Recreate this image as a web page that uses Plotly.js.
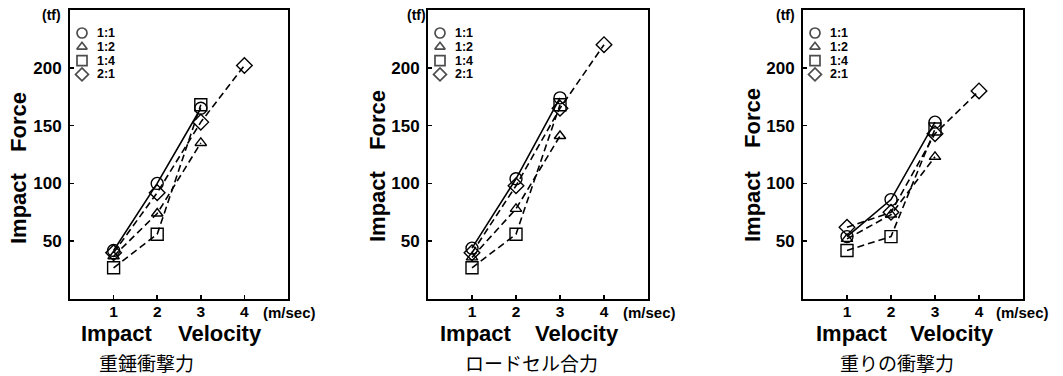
<!DOCTYPE html>
<html><head><meta charset="utf-8">
<script src="https://cdn.plot.ly/plotly-3.0.1.min.js"></script>
<style>html,body{margin:0;padding:0;background:#fff;}#chart{width:1063px;height:376px;}</style>
</head><body><div id="chart"></div>
<script>
// ---- data ----
const velocities = [1, 2, 3, 4];
const ratios = ['1:1', '1:2', '1:4', '2:1'];
const captions = ['重錘衝撃力', 'ロードセル合力', '重りの衝撃力'];
const xTickVals = [1, 2, 3, 4];
const yTickVals = [50, 100, 150, 200];
// panel 1: 重錘衝撃力
const hammer_11 = [42, 100, 165];
const hammer_12 = [37, 74, 135];
const hammer_14 = [27, 56, 168];
const hammer_21 = [40, 92, 153, 202];
// panel 2: ロードセル合力
const loadcell_11 = [44, 104, 174];
const loadcell_12 = [36, 78, 141];
const loadcell_14 = [27, 56, 168];
const loadcell_21 = [40, 98, 165, 220];
// panel 3: 重りの衝撃力
const weight_11 = [54, 86, 153];
const weight_12 = [52, 73, 123];
const weight_14 = [42, 54, 147];
const weight_21 = [62, 75, 143, 180];

const panelsData = [
  [hammer_11, hammer_12, hammer_14, hammer_21],
  [loadcell_11, loadcell_12, loadcell_14, loadcell_21],
  [weight_11, weight_12, weight_14, weight_21]
];

// ---- styling / layout ----
const W = 1063, H = 376;
const fx = p => p / W, fy = p => 1 - p / H;
const BOLD = '"Liberation Sans", Arial, sans-serif';
const CJK = '"Noto Sans CJK JP", "Noto Sans CJK SC", sans-serif';
const symbols = ['circle-open', 'triangle-up-open', 'square-open', 'diamond-open'];
const dashes = ['solid', '7px,4px', '7px,4px', '7px,4px'];
const xDomPx = [[70, 288], [428, 648], [803, 1023]];
const yDomPx = [10, 299];
const yTitleX = [18, 377, 752];
const yTitleImpactY = [208, 206, 206];
const yTitleForceY = [122, 120, 118];
const xTitleImpactX = [117, 476, 852];
const xTitleVelX = [220, 577, 952];
const xTitleY = 333;
const unitPos = [[289, 312], [649, 312], [1022, 312]];
const tfPos = [[51, 15], [416, 15], [785, 15]];
const capPos = [[146, 362], [531, 362], [897, 362]];
const legSymX = 12, legTextX = 25, legTop = 23, legStep = 13.8;

const traces = [];
const layout = {
  width: W, height: H,
  margin: {l: 0, r: 0, t: 0, b: 0},
  paper_bgcolor: '#fff', plot_bgcolor: '#fff',
  showlegend: false,
  font: {family: BOLD, color: '#000'},
  annotations: []
};

function ann(x, y, text, size, opts) {
  return Object.assign({xref: 'paper', yref: 'paper', x: fx(x), y: fy(y), text: text, showarrow: false,
    xanchor: 'center', yanchor: 'middle',
    font: {family: BOLD, size: size, weight: 'bold', color: '#000'}}, opts || {});
}

panelsData.forEach((series, i) => {
  const n = i ? i + 1 : '';
  const xa = 'xaxis' + n, ya = 'yaxis' + n, xr = 'x' + n, yr = 'y' + n;
  layout[xa] = {
    domain: [fx(xDomPx[i][0]), fx(xDomPx[i][1])], anchor: yr,
    range: [0, 5], tickvals: xTickVals, ticktext: xTickVals.map(String),
    showgrid: false, zeroline: false, showline: true, mirror: true,
    linecolor: '#000', linewidth: 2, ticks: 'inside', ticklen: 4, tickwidth: 1.5, tickcolor: '#000',
    tickfont: {family: BOLD, size: 15.5, weight: 'bold', color: '#000'}, ticklabelstandoff: -3, fixedrange: true
  };
  layout[ya] = {
    domain: [fy(yDomPx[1]), fy(yDomPx[0])], anchor: xr,
    range: [0, 250], tickvals: yTickVals, ticktext: yTickVals.map(String),
    showgrid: false, zeroline: false, showline: true, mirror: true,
    linecolor: '#000', linewidth: 2, ticks: 'inside', ticklen: 4, tickwidth: 1.5, tickcolor: '#000',
    tickfont: {family: BOLD, size: 17, weight: 'bold', color: '#000'}, ticklabelstandoff: 3, fixedrange: true
  };
  // overlay axes in panel pixel units for the in-plot key
  const k = i + 4;
  const lxa = 'xaxis' + k, lya = 'yaxis' + k, lxr = 'x' + k, lyr = 'y' + k;
  layout[lxa] = {overlaying: xr, anchor: lyr, visible: false, fixedrange: true,
    range: [0, xDomPx[i][1] - xDomPx[i][0]]};
  layout[lya] = {overlaying: yr, anchor: lxr, visible: false, fixedrange: true,
    range: [yDomPx[1] - yDomPx[0], 0]};

  series.forEach((vals, j) => {
    traces.push({
      type: 'scatter', mode: 'lines+markers', name: ratios[j],
      x: velocities.slice(0, vals.length), y: vals, xaxis: xr, yaxis: yr,
      line: {color: '#000', width: 1.6, dash: dashes[j]},
      marker: {symbol: symbols[j], size: j === 1 ? 10 : 12, color: '#000', line: {width: 1.4, color: '#000'}},
      cliponaxis: false, hoverinfo: 'skip'
    });
  });
  // key symbols
  traces.push({
    type: 'scatter', mode: 'markers', xaxis: lxr, yaxis: lyr, hoverinfo: 'skip',
    x: ratios.map(() => legSymX), y: ratios.map((r, j) => legTop + j * legStep),
    marker: {symbol: symbols, size: [10, 9, 10, 10], color: '#000', line: {width: 1.7, color: '#000'}}
  });
  ratios.forEach((r, j) => {
    layout.annotations.push(ann(xDomPx[i][0] + legTextX, yDomPx[0] + legTop + j * legStep, r, 12.5, {xanchor: 'left'}));
  });
  layout.annotations.push(ann(yTitleX[i], yTitleImpactY[i], 'Impact', 22, {textangle: -90}));
  layout.annotations.push(ann(yTitleX[i], yTitleForceY[i], 'Force', 22, {textangle: -90}));
  layout.annotations.push(ann(xTitleImpactX[i], xTitleY, 'Impact', 22));
  layout.annotations.push(ann(xTitleVelX[i], xTitleY, 'Velocity', 22));
  layout.annotations.push(ann(unitPos[i][0], unitPos[i][1], '(m/sec)', 15));
  layout.annotations.push(ann(tfPos[i][0], tfPos[i][1], '(tf)', 14));
  layout.annotations.push(ann(capPos[i][0], capPos[i][1], captions[i], 19,
    {font: {family: CJK, size: 19, color: '#000'}}));
});

Plotly.newPlot('chart', traces, layout, {staticPlot: true, displayModeBar: false});
</script>
</body></html>
